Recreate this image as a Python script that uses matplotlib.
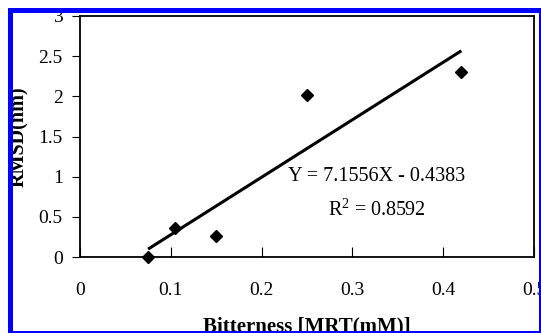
import matplotlib
matplotlib.use("Agg")
import matplotlib.pyplot as plt
from matplotlib.patches import Rectangle
import numpy as np

# data
bitterness = [0.075, 0.105, 0.15, 0.25, 0.42]
rmsd = [0.0, 0.36, 0.26, 2.02, 2.30]

slope = 7.1556
intercept = -0.4383
r_squared = 0.8592

x_ticks = [0, 0.1, 0.2, 0.3, 0.4, 0.5]
x_tick_labels = ["0", "0.1", "0.2", "0.3", "0.4", "0.5"]
y_ticks = [0, 0.5, 1, 1.5, 2, 2.5, 3]
y_tick_labels = ["0", "0.5", "1", "1.5", "2", "2.5", "3"]

plt.rcParams["font.family"] = ["Liberation Serif", "DejaVu Serif"]
plt.rcParams["mathtext.fontset"] = "custom"
plt.rcParams["mathtext.rm"] = "Liberation Serif"
plt.rcParams["mathtext.it"] = "Liberation Serif:italic"
plt.rcParams["mathtext.bf"] = "Liberation Serif:bold"

W, H = 541, 333
fig = plt.figure(figsize=(W / 100, H / 100), dpi=100)
fig.patch.set_facecolor("white")

# axes box in pixels: left 80, right 534, top 16, bottom 257
ax = fig.add_axes([80 / W, (H - 257) / H, (534 - 80) / W, (257 - 16) / H])

ax.plot(bitterness, rmsd, linestyle="none", marker="D", markersize=5.8,
        color="black", zorder=3, clip_on=False)

fit_x = np.array([min(bitterness), max(bitterness)])
ax.plot(fit_x, slope * fit_x + intercept, color="black", linewidth=2.2,
        solid_capstyle="butt", zorder=2)

ax.set_xlim(0, 0.5)
ax.set_ylim(0, 3)
ax.set_xticks(x_ticks)
ax.set_xticklabels(x_tick_labels)
ax.set_yticks(y_ticks)
ax.set_yticklabels(y_tick_labels)

ax.tick_params(axis="x", direction="in", length=7, width=0.8,
               labelsize=14, pad=18)
ax.tick_params(axis="y", direction="out", length=6, width=0.8,
               labelsize=14, pad=6.5)
for spine in ax.spines.values():
  spine.set_linewidth(1.3)

ax.text(0.327, 1.0, f"Y = {slope}X - {-intercept}", ha="center",
        va="center", fontsize=14.5)
ax.text(0.327, 0.585, r"R$^{\mathrm{2}}$" + f" = {r_squared}", ha="center",
        va="center", fontsize=14.5)

ax.set_xlabel("Bitterness [MRT(mM)]", fontsize=15, fontweight="bold")
ax.xaxis.set_label_coords(0.5, -0.245)
ax.set_ylabel("RMSD(nm)", fontsize=14.5, fontweight="bold")
ax.yaxis.set_label_coords(-0.113, 0.5)

# blue frame drawn on top of everything
lw_px = 5
frame = Rectangle((9.5 / W, (H - 332.5) / H), (540.5 - 9.5) / W,
                  (332.5 - 9.5) / H, transform=fig.transFigure,
                  fill=False, edgecolor="#0000ff", linewidth=lw_px * 0.72,
                  zorder=20)
fig.patches.append(frame)

fig.savefig("out.png", dpi=100)
